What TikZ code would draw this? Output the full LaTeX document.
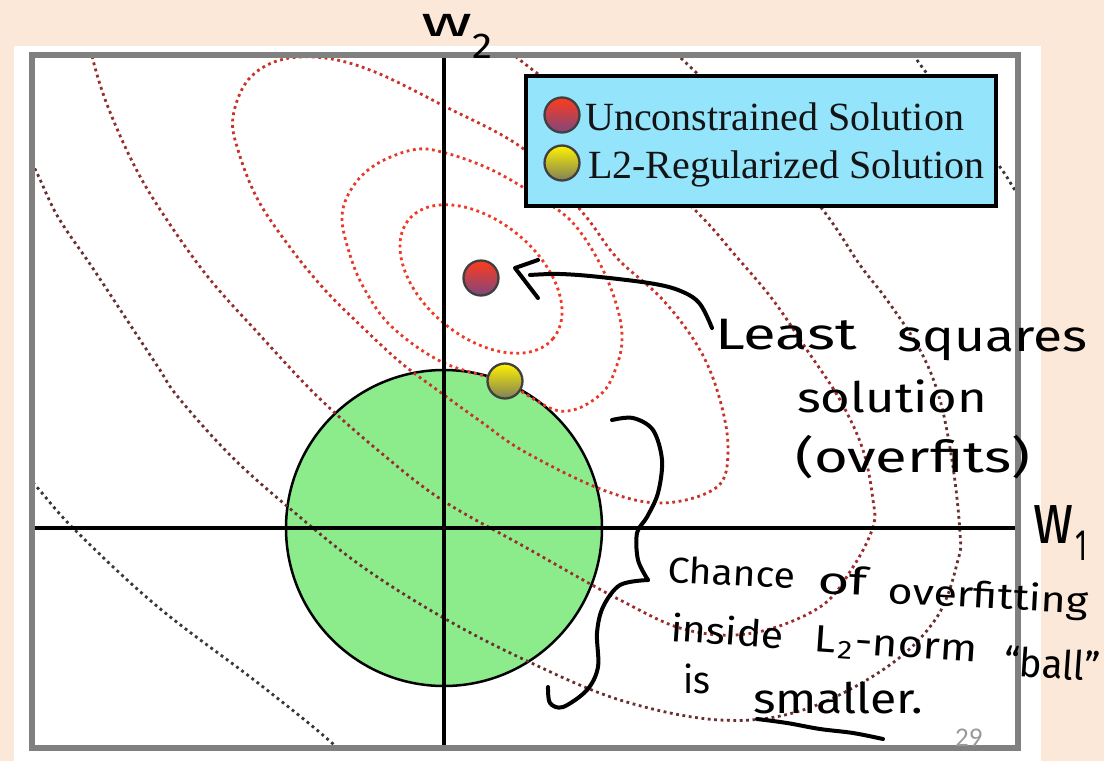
\documentclass[tikz,border=0pt]{standalone}
\usepackage{fontspec}
\usepackage{graphicx}
\setmainfont{Liberation Serif}
\newfontfamily\hand{Fira Sans}
\newfontfamily\calib{Carlito}
\definecolor{peach}{HTML}{FCE8D9}
\definecolor{cA}{HTML}{F03A26}
\definecolor{cB}{HTML}{E63A2A}
\definecolor{cC}{HTML}{C83228}
\definecolor{cD}{HTML}{9A2C2C}
\definecolor{cE}{HTML}{6A3030}
\definecolor{cF}{HTML}{383838}
\definecolor{ballgreen}{HTML}{8CEC8C}
\definecolor{legblue}{HTML}{94E4FC}
\definecolor{framegray}{HTML}{808080}
% width-fitted handwriting: natural height, given width
\newcommand{\hwfit}[2]{\resizebox{#1pt}{\height}{#2}}
\newcommand{\hs}[1]{\fontsize{#1}{#1}\selectfont}
\begin{document}
\begin{tikzpicture}[x=1pt,y=-1pt,
  contour/.style={line width=2.8pt, dash pattern=on 2.8pt off 3.6pt},
  axisline/.style={line width=3.5pt, black},
  soldot/.style={circle, minimum size=35pt, inner sep=0pt, draw=black!75, line width=2.3pt},
  hw/.style={font=\hand, anchor=base west, inner sep=0pt, text=black},
  ink/.style={line width=4pt, line cap=round, line join=round, black},
  legtext/.style={font=\fontsize{40}{48}\selectfont, anchor=base west, inner sep=0pt, text=black!92}]
\useasboundingbox (0,0) rectangle (1104,761);
\fill[peach] (0,0) rectangle (1104,761);
\fill[white] (14,46) rectangle (1041,761);
% L2 ball
\node[circle, draw=black, line width=2.5pt, fill=ballgreen, minimum size=316pt, inner sep=0pt] (ball) at (444,528) {};
% contours
\begin{scope}
\clip (32,55) rectangle (1018,748);
\draw[contour, cA, rotate around={-39.4:(481,279)}] (481,279) ellipse [x radius=93.5, y radius=57.8];
\draw[contour, cB] plot[smooth cycle, tension=0.6] coordinates {(342,217) (350,255) (365,290) (392,327) (442,362) (505,383) (560,411) (600,395) (617,365) (622,335) (615,300) (598,260) (573,223) (543,200) (492,170) (442,152) (412,150) (375,165) (352,188)};
\draw[contour, cC] plot[smooth cycle, tension=0.6] coordinates {(233,117) (238,150) (258,200) (292,250) (325,290) (358,323) (400,362) (440,392) (480,421) (525,452) (603,490) (663,503) (717,487) (728,450) (720,400) (700,350) (663,300) (617,258) (583,213) (525,150) (442,105) (375,72) (325,58) (280,60) (248,80)};
\draw[contour, cD] plot[smooth, tension=0.6] coordinates {(80,0) (88,30) (93,60) (108,107) (135,167) (165,217) (208,277) (258,333) (318,397) (380,452) (442,500) (525,547) (620,600) (687,630) (753,633) (820,607) (853,567) (873,527) (873,500) (863,450) (840,400) (807,350) (773,300) (735,255) (695,210) (610,130) (520,60) (460,10) (400,-20)};
\draw[contour, cE] plot[smooth, tension=0.6] coordinates {(20,140) (37,173) (58,217) (92,267) (125,317) (158,367) (178,397) (230,455) (288,507) (360,565) (442,617) (525,660) (620,700) (720,720) (803,710) (887,667) (937,617) (958,560) (960,533) (953,467) (940,400) (920,350) (887,300) (860,265) (823,210) (760,135) (683,60) (640,20)};
\draw[contour, cF] plot[smooth, tension=0.6] coordinates {(10,460) (35,485) (75,530) (158,607) (258,683) (332,743) (360,775)};
\draw[contour, cF] plot[smooth, tension=0.6] coordinates {(880,0) (917,60) (960,115) (1000,167) (1017,193) (1045,230)};
\end{scope}
% axes
\coordinate (vt) at (444,55);
\coordinate (vb) at (444,748);
\coordinate (hl) at (32,528);
\coordinate (hr) at (1018,528);
\draw[axisline] (vt) -- (vb);
\draw[axisline] (hl) -- (hr);
% solutions
\node[soldot, top color=red!70!orange!90, bottom color=violet!45!gray] (unc) at (481,278) {};
\node[soldot, top color=yellow!90!orange, bottom color=gray!85!olive] (reg) at (505,381) {};
% legend
\node[draw=black, line width=3.5pt, fill=legblue, minimum width=470pt, minimum height=130pt, inner sep=0pt] (legend) at (761,141) {};
\node[soldot, top color=red!70!orange!90, bottom color=violet!45!gray] (legunc) at (562,115) {};
\node[soldot, top color=yellow!90!orange, bottom color=gray!85!olive] (legreg) at (562,163) {};
\node[legtext] (lg1) at (585,130) {Unconstrained Solution};
\node[legtext] (lg2) at (588,178) {L2-Regularized Solution};
% frame
\draw[framegray, line width=6.5pt] (32,55) rectangle (1018,748);
\node[font=\calib\fontsize{27}{30}\selectfont, text=black!40, anchor=base west, inner sep=0pt] (pg) at (955,746) {29};
% handwriting
\node[hw] (w2a) at (421,36) {\hs{42}\hwfit{51}{w}};
\node[hw] (w2b) at (472,58) {\hs{36}\hwfit{20}{2}};
\node[hw] (w1a) at (1033,543) {\hs{72}\hwfit{40}{w}};
\node[hw] (w1b) at (1075,560) {\hs{44}\hwfit{12}{1}};
\node[hw] (ls1) at (715,349) {\hs{44}\hwfit{142}{Least}};
\node[hw] (ls2) at (897,351) {\hs{44}\hwfit{190}{squares}};
\node[hw] (ls3) at (797,412) {\hs{42}\hwfit{190}{solution}};
\node[hw] (ls4) at (795,472) {\hs{44}\hwfit{235}{(overfits)}};
\node[hw, rotate=-3] (ch1) at (667,582) {\hs{36}\hwfit{128}{Chance}};
\node[hw, rotate=-3] (ch2) at (817,593) {\hs{38}\hwfit{50}{of}};
\node[hw, rotate=-3] (ch3) at (887,603) {\hs{36}\hwfit{201}{overfitting}};
\node[hw, rotate=-4] (ch4) at (670,641) {\hs{37}\hwfit{113}{inside}};
\node[hw, rotate=-4] (ch5) at (813,651) {\hs{38}\hwfit{164}{L\kern2pt\raisebox{-0.3ex}{\hs{26}2}\kern2pt-norm}};
\node[hw, rotate=-4] (ch6) at (1003,675) {\hs{40}\hwfit{96}{“ball”}};
\node[hw] (ch7) at (683,693) {\hs{38}\hwfit{27}{is}};
\node[hw] (ch8) at (753,713) {\hs{42}\hwfit{170}{smaller.}};
% arrow to unconstrained solution
\coordinate (atip) at (515,268);
\coordinate (ab1) at (538,260);
\coordinate (ab2) at (538,298);
\draw[ink] plot[smooth, tension=0.6] coordinates {(712,328) (700,304) (683,292) (655,284) (600,277) (560,274) (530,275)};
\draw[ink] (ab1) -- (atip) -- (ab2);
% brace
\draw[ink] plot[smooth, tension=0.55] coordinates {(612,420) (633,418) (653,430) (662,460) (658,493) (647,517) (637,533) (638,560) (648,580)};
\draw[ink] plot[smooth, tension=0.55] coordinates {(648,580) (620,585) (603,607) (597,633) (598,667) (587,690) (563,707) (550,703) (548,687)};
% underline
\draw[ink] plot[smooth, tension=0.6] coordinates {(757,719) (787,723) (820,729) (853,733) (883,739)};
\end{tikzpicture}
\end{document}
